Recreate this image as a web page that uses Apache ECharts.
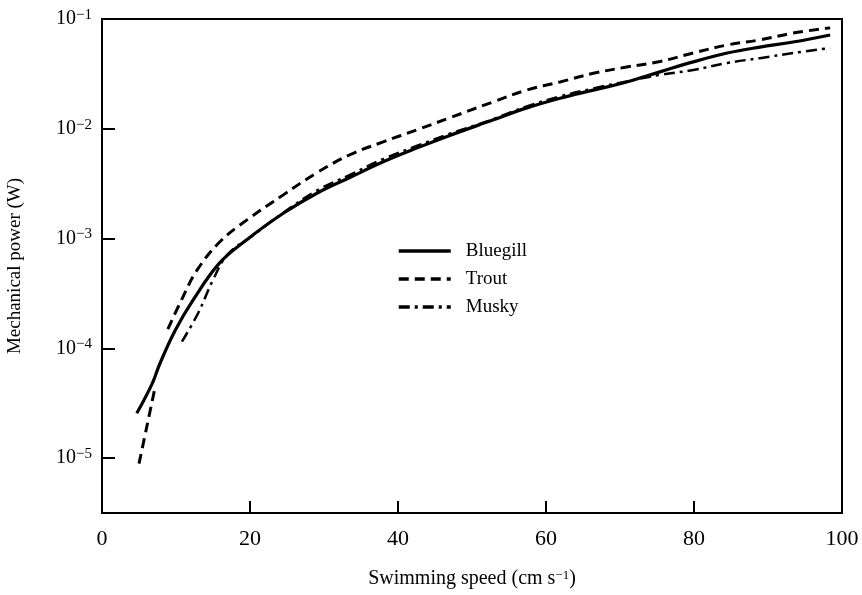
<!DOCTYPE html>
<html>
<head>
<meta charset="utf-8">
<script src="https://cdn.jsdelivr.net/npm/echarts@6/dist/echarts.min.js"></script>
<style>html,body{margin:0;padding:0;background:#fff}#c{width:862px;height:595px}</style>
</head>
<body>
<div id="c"></div>
<script>
const seriesNames = ['Bluegill', 'Trout', 'Musky'];
const xTicks = [0, 20, 40, 60, 80, 100];
const bluegill = [[4.7,2.56e-5],[6.8,4.8e-5],[7.8,7.2e-5],[9.9,1.46e-4],[12.3,2.75e-4],[15.9,6.0e-4],[19.6,9.8e-4],[24.5,1.7e-3],[29.1,2.6e-3],[33.5,3.6e-3],[38,5.0e-3],[42.6,6.7e-3],[47,8.7e-3],[52.8,1.2e-2],[57.4,1.55e-2],[61.9,1.9e-2],[66.4,2.25e-2],[70.9,2.67e-2],[75.4,3.3e-2],[79.9,4.07e-2],[84.5,4.9e-2],[88.9,5.55e-2],[93.4,6.17e-2],[98.4,7.15e-2]];
const trout = [[5.0,8.9e-6],[6.1,2.0e-5],[7.2,4.5e-5],[8,'-'],[8.9,1.5e-4],[10.9,2.9e-4],[12.8,5.1e-4],[15.9,9.3e-4],[19.6,1.48e-3],[24.5,2.5e-3],[29.1,4.0e-3],[33.5,5.8e-3],[38,7.6e-3],[42.6,9.8e-3],[47,1.26e-2],[52.8,1.75e-2],[57.4,2.25e-2],[61.9,2.67e-2],[66.4,3.2e-2],[70.9,3.65e-2],[75.4,4.1e-2],[79.9,4.9e-2],[84.5,5.8e-2],[88.9,6.45e-2],[93.4,7.45e-2],[98.4,8.3e-2]];
const musky = [[10.8,1.15e-4],[13,2.1e-4],[15,4.2e-4],[17,7.2e-4],[20,1.02e-3],[24.5,1.72e-3],[29.1,2.75e-3],[33.5,3.8e-3],[38,5.3e-3],[42.6,7.0e-3],[47,9.0e-3],[52.8,1.22e-2],[57.4,1.6e-2],[61.9,1.97e-2],[66.4,2.33e-2],[70.9,2.7e-2],[75.4,3.1e-2],[79.9,3.43e-2],[84.5,3.98e-2],[88.9,4.4e-2],[93.4,4.9e-2],[98.4,5.44e-2]];
const yMin = Math.pow(10, -5.5), yMax = 0.1;

const font = 'Liberation Serif';
const chart = echarts.init(document.getElementById('c'));
function mkSeries(name, data, type, width) {
  return {
    name, type: 'line', data, smooth: 0.4, symbol: 'none', showSymbol: false,
    connectNulls: false, color: '#000',
    itemStyle: { color: '#000' },
    lineStyle: { color: '#000', width, type }
  };
}
chart.setOption({
  animation: false,
  backgroundColor: '#fff',
  color: ['#000', '#000', '#000'],
  grid: { left: 102, right: 20, top: 19, bottom: 82, show: true, borderColor: '#000', borderWidth: 2, outerBoundsMode: 'none' },
  legend: {
    orient: 'vertical', left: 392, top: 236, itemWidth: 52, itemHeight: 14, itemGap: 8,
    itemStyle: { opacity: 0 },
    lineStyle: { width: 3.5, color: '#000' },
    textStyle: { fontFamily: font, fontSize: 19, color: '#000', lineHeight: 20, padding: [0, 0, 0, 10] },
    data: seriesNames
  },
  xAxis: {
    type: 'value', min: xTicks[0], max: xTicks[xTicks.length - 1], interval: 20,
    name: 'Swimming speed (cm s{sup|−1})', nameLocation: 'middle', nameGap: 56,
    nameTextStyle: { fontFamily: font, fontSize: 20, color: '#000', rich: { sup: { fontFamily: font, fontSize: 13, verticalAlign: 'top', padding: [0,0,6,0] } } },
    axisLine: { lineStyle: { color: '#000', width: 2 } },
    axisTick: { inside: true, length: 12, lineStyle: { color: '#000', width: 2 } },
    axisLabel: { fontFamily: font, fontSize: 22, color: '#000', margin: 15 },
    splitLine: { show: false }
  },
  yAxis: {
    type: 'log', logBase: 10, min: yMin, max: yMax,
    name: 'Mechanical power (W)', nameLocation: 'middle', nameGap: 77,
    nameTextStyle: { fontFamily: font, fontSize: 19, color: '#000' },
    axisLine: { lineStyle: { color: '#000', width: 2 } },
    axisTick: { inside: true, length: 13, lineStyle: { color: '#000', width: 2 } },
    axisLabel: {
      fontFamily: font, fontSize: 20, color: '#000', margin: 10,
      formatter: function (v) {
        const e = Math.log10(v);
        if (Math.abs(e - Math.round(e)) > 1e-6) return '';
        return '10{sup|−' + (-Math.round(e)) + '}';
      },
      rich: { sup: { fontFamily: font, fontSize: 15, verticalAlign: 'top', padding: [0, 0, 8, 0] } }
    },
    splitLine: { show: false }
  },
  series: [
    mkSeries('Bluegill', bluegill, 'solid', 3.2),
    mkSeries('Trout', trout, [10, 6], 3),
    mkSeries('Musky', musky, [11, 5, 3, 5], 2.5)
  ]
});
</script>
</body>
</html>
